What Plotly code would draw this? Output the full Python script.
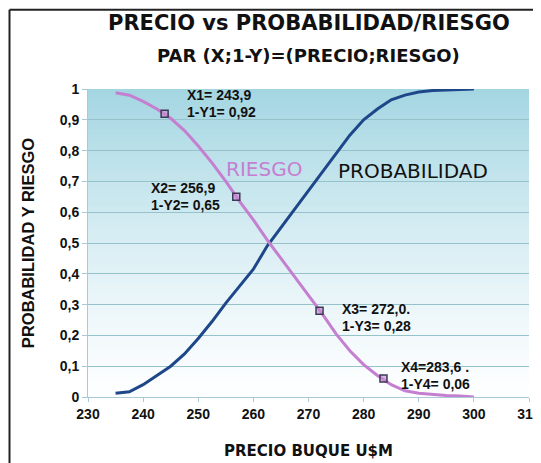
import plotly.graph_objects as go

# ---- data ----
precio = [235, 237.5, 240, 242.5, 245, 247.5, 250, 252.5, 255, 257.5, 260, 262.5,
          265, 267.5, 270, 272.5, 275, 277.5, 280, 282.5, 285, 287.5, 290, 292.5,
          295, 297.5, 300]
probabilidad = [0.012, 0.017, 0.04, 0.07, 0.10, 0.14, 0.19, 0.245, 0.305, 0.36, 0.415, 0.49,
                0.55, 0.61, 0.67, 0.73, 0.79, 0.85, 0.90, 0.935, 0.965, 0.98, 0.99, 0.995,
                0.997, 0.998, 1.0]
riesgo = [0.988, 0.98, 0.96, 0.935, 0.905, 0.865, 0.815, 0.76, 0.70, 0.635, 0.575, 0.51,
          0.45, 0.39, 0.33, 0.27, 0.205, 0.15, 0.105, 0.07, 0.04, 0.02, 0.012, 0.008,
          0.005, 0.003, 0.0]

pares_x = [243.9, 256.9, 272.0, 283.6]
pares_y = [0.92, 0.65, 0.28, 0.06]
pares_txt_x = ["X1= 243,9", "X2= 256,9", "X3= 272,0.", "X4=283,6 ."]
pares_txt_y = ["1-Y1= 0,92", "1-Y2= 0,65", "1-Y3= 0,28", "1-Y4= 0,06"]

x_ticks = [230, 240, 250, 260, 270, 280, 290, 300, 310]

TITLE_FONT = "DejaVu Sans"
LABEL_FONT = "Liberation Sans"

fig = go.Figure()

fig.add_trace(go.Scatter(x=precio, y=probabilidad, mode="lines",
                         line=dict(color="#1d4788", width=3), name="PROBABILIDAD",
                         showlegend=False))
fig.add_trace(go.Scatter(x=precio, y=riesgo, mode="lines",
                         line=dict(color="#c57fd0", width=3), name="RIESGO",
                         showlegend=False))
fig.add_trace(go.Scatter(x=pares_x, y=pares_y, mode="markers",
                         marker=dict(symbol="square", size=7, color="rgba(200,140,210,0.6)",
                                     line=dict(color="#3a3a55", width=1.5)),
                         showlegend=False))

# gradient background (stacked rects, no seams)
n = 60
top = (164, 214, 226)
bot = (253, 254, 255)
shapes = []
for i in range(n):
    t = i / (n - 1)
    f = t ** 1.3
    c = tuple(int(round(bot[k] + (top[k] - bot[k]) * f)) for k in range(3))
    shapes.append(dict(type="rect", xref="x domain", yref="y domain",
                       x0=0, x1=1, y0=i / n, y1=1,
                       fillcolor="rgb(%d,%d,%d)" % c, line=dict(width=0), layer="below"))
# outer frame (left and top edges visible)
shapes.append(dict(type="line", xref="paper", yref="paper", x0=-0.178, x1=-0.178,
                   y0=-0.3, y1=1.257, line=dict(color="#222", width=2)))
shapes.append(dict(type="line", xref="paper", yref="paper", x0=-0.178, x1=1.1,
                   y0=1.257, y1=1.257, line=dict(color="#222", width=2)))

annotations = []
text_pos = [(247.6, 0.98), (241.1, 0.68), (275.7, 0.287), (286.4, 0.098)]
for i in range(4):
    tx, ty = text_pos[i]
    annotations.append(dict(x=tx, y=ty, xref="x", yref="y",
                            text="<b>%s</b>" % pares_txt_x[i], showarrow=False,
                            xanchor="left", yanchor="middle",
                            font=dict(family=LABEL_FONT, size=14, color="#111")))
    annotations.append(dict(x=tx, y=ty - 0.056, xref="x", yref="y",
                            text="<b>%s</b>" % pares_txt_y[i], showarrow=False,
                            xanchor="left", yanchor="middle",
                            font=dict(family=LABEL_FONT, size=14, color="#111")))

annotations.append(dict(x=262, y=0.74, xref="x", yref="y", text="RIESGO", showarrow=False,
                        xanchor="center", yanchor="middle",
                        font=dict(family=TITLE_FONT, size=20, color="#c57fd0")))
annotations.append(dict(x=275.0, y=0.733, xref="x", yref="y", text="PROBABILIDAD",
                        showarrow=False, xanchor="left", yanchor="middle",
                        font=dict(family=TITLE_FONT, size=20, color="#111")))

annotations.append(dict(x=0.5, y=1.215, xref="paper", yref="paper",
                        text="<b>PRECIO vs PROBABILIDAD/RIESGO</b>", showarrow=False,
                        xanchor="center", yanchor="middle",
                        font=dict(family=TITLE_FONT, size=21, color="#111")))
annotations.append(dict(x=0.5, y=1.11, xref="paper", yref="paper",
                        text="<b>PAR (X;1-Y)=(PRECIO;RIESGO)</b>", showarrow=False,
                        xanchor="center", yanchor="middle",
                        font=dict(family=TITLE_FONT, size=18, color="#111")))

fig.update_layout(
    width=533, height=455,
    margin=dict(l=80, r=12, t=81, b=66),
    paper_bgcolor="white", plot_bgcolor="white",
    separators=",.",
    shapes=shapes, annotations=annotations,
    xaxis=dict(range=[230, 310], tickvals=x_ticks, showgrid=False, zeroline=False,
               automargin=False,
               showline=True, linecolor="#a9c9d6", linewidth=1,
               ticks="outside", ticklen=4, tickcolor="#a9c9d6",
               tickfont=dict(family=LABEL_FONT, size=14, color="#111", weight="bold"),
               title=dict(text="<b>PRECIO BUQUE U$M</b>", standoff=24,
                          font=dict(family=TITLE_FONT, size=15, color="#111"))),
    yaxis=dict(range=[0, 1], dtick=0.1, showgrid=True, gridcolor="#96c2cc", gridwidth=1,
               zeroline=False, automargin=False,
               showline=True, linecolor="#a9c9d6", linewidth=1,
               ticks="outside", ticklen=5, tickcolor="#a9c9d6",
               tickfont=dict(family=LABEL_FONT, size=14, color="#111", weight="bold"),
               title=dict(text="<b>PROBABILIDAD Y RIESGO</b>", standoff=20,
                          font=dict(family=LABEL_FONT, size=16.5, color="#111"))),
)

fig.write_html("out.html")
